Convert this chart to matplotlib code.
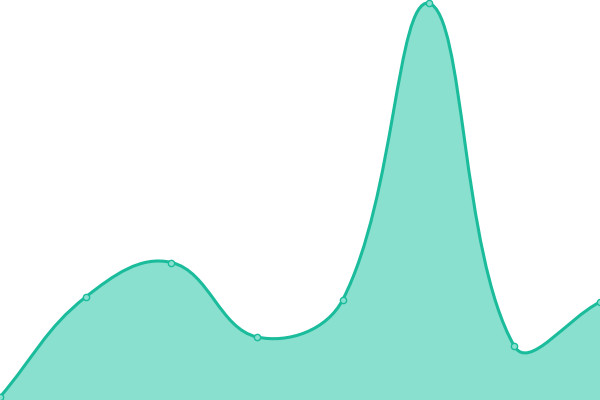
import numpy as np
import matplotlib.pyplot as plt
from matplotlib.path import Path
from matplotlib.patches import PathPatch

# data (axis runs 0..400, x positions are category indexes)
labels = ["A", "B", "C", "D", "E", "F", "G", "H"]
values = [3, 103, 137.5, 63, 100.5, 397, 54, 98]

line_color = "#1abc9c"
fill_color = "#89e0cf"
tension = 0.4

W, H = 600, 400
fig = plt.figure(figsize=(6, 4), dpi=100)
ax = fig.add_axes([0, 0, 1, 1])
ax.set_xlim(0, W)
ax.set_ylim(0, H)
ax.axis("off")

n = len(values)
xs = np.linspace(0, W, n)
ys = np.array(values, dtype=float)
pts = np.column_stack([xs, ys])


def spline_controls(p):
    # same idea as chart.js splineCurve
    cps = []
    for i in range(len(p)):
        prev = p[max(i - 1, 0)]
        cur = p[i]
        nxt = p[min(i + 1, len(p) - 1)]
        d01 = np.hypot(*(cur - prev))
        d12 = np.hypot(*(nxt - cur))
        s01 = d01 / (d01 + d12) if d01 + d12 else 0
        s12 = d12 / (d01 + d12) if d01 + d12 else 0
        fa, fb = tension * s01, tension * s12
        c1 = cur - fa * (nxt - prev)
        c2 = cur + fb * (nxt - prev)
        c1[1] = np.clip(c1[1], 0, H)
        c2[1] = np.clip(c2[1], 0, H)
        cps.append((c1, c2))
    return cps


cps = spline_controls(pts)
verts = [tuple(pts[0])]
codes = [Path.MOVETO]
for i in range(n - 1):
    verts += [tuple(cps[i][1]), tuple(cps[i + 1][0]), tuple(pts[i + 1])]
    codes += [Path.CURVE4] * 3

line_path = Path(verts, codes)
fill_path = Path(verts + [(W, 0), (0, 0), (0, 0)],
                 codes + [Path.LINETO, Path.LINETO, Path.CLOSEPOLY])

ax.add_patch(PathPatch(fill_path, facecolor=fill_color, edgecolor="none"))
ax.add_patch(PathPatch(line_path, facecolor="none", edgecolor=line_color,
                       lw=2.2, capstyle="round", joinstyle="round"))
ax.plot(xs, ys, "o", ms=4.5, mfc=fill_color, mec=line_color, mew=1.0,
        clip_on=False, zorder=5)

fig.savefig("out.png", dpi=100)
